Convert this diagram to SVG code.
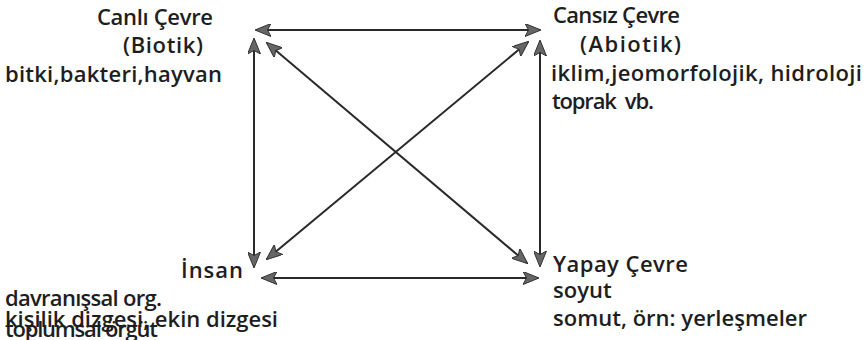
<svg xmlns="http://www.w3.org/2000/svg" width="865" height="340" viewBox="0 0 865 340">
<style>
.t{font-family:"Open Sans","Liberation Sans",sans-serif;font-size:22px;font-weight:600;fill:#1e1e1e}
.c{stroke:#2a2a2a;stroke-width:2;fill:none;marker-start:url(#ah);marker-end:url(#ah)}
</style>
<defs>
<marker id="ah" viewBox="0 0 16 13" refX="15" refY="6.5" markerWidth="16" markerHeight="13" markerUnits="userSpaceOnUse" orient="auto-start-reverse">
<path d="M0,0 L16,6.5 L0,13 L3.5,6.5 z" fill="#666" stroke="#333" stroke-width="1"/>
</marker>
</defs>
<rect width="865" height="340" fill="#fff"/>
<g id="connectors">
<line class="c" x1="256" y1="30" x2="540" y2="30"/>
<line class="c" x1="254" y1="39" x2="254" y2="267"/>
<line class="c" x1="540" y1="41" x2="540" y2="266"/>
<line class="c" x1="262" y1="278" x2="538" y2="278"/>
<line class="c" x1="267" y1="43" x2="527" y2="263"/>
<line class="c" x1="267" y1="259" x2="528" y2="42"/>
</g>
<g id="canli">
<text class="t" x="97" y="25" textLength="116">Canlı Çevre</text>
<text class="t" x="123" y="53" textLength="80">(Biotik)</text>
<text class="t" x="5" y="82" textLength="217">bitki,bakteri,hayvan</text>
</g>
<g id="cansiz">
<text class="t" x="553" y="23" textLength="127">Cansız Çevre</text>
<text class="t" x="580" y="52" textLength="101">(Abiotik)</text>
<text class="t" x="551" y="81" textLength="311">iklim,jeomorfolojik, hidroloji</text>
<text class="t" x="552" y="109" textLength="102">toprak&#160; vb.</text>
</g>
<g id="insan">
<text class="t" x="181" y="278" textLength="62">İnsan</text>
<text class="t" x="5" y="306" textLength="157">davranışsal org.</text>
<text class="t" x="5" y="327" textLength="273">kişilik dizgesi, ekin dizgesi</text>
<text class="t" x="5" y="337" textLength="153">toplumsal örgüt</text>
</g>
<g id="yapay">
<text class="t" x="553" y="272" textLength="135">Yapay Çevre</text>
<text class="t" x="553" y="298">soyut</text>
<text class="t" x="553" y="326" textLength="254">somut, örn: yerleşmeler</text>
</g>
</svg>
